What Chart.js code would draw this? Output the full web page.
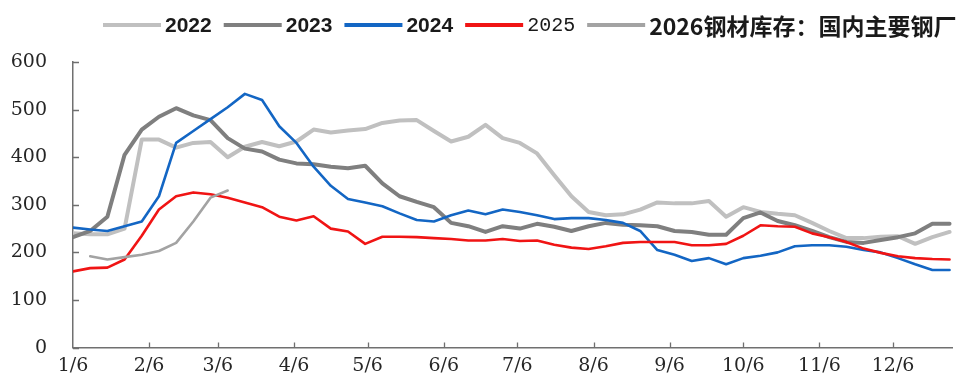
<!DOCTYPE html>
<html>
<head>
<meta charset="utf-8">
<script src="https://cdn.jsdelivr.net/npm/chart.js@4.4.1/dist/chart.umd.min.js"></script>
<style>
html,body{margin:0;padding:0;background:#fff;}
#wrap{position:relative;width:977px;height:385px;}
</style>
</head>
<body>
<div id="wrap"><canvas id="c"></canvas></div>
<script>
// Weekly observation points, as day offsets from 1/6
const categories = [0,7,14,21,28,35,42,49,56,63,70,77,84,91,98,105,112,119,126,133,140,147,154,161,168,175,182,189,196,203,210,217,224,231,238,245,252,259,266,273,280,287,294,301,308,315,322,329,336,343,350,357];
// Month tick positions (day offsets) and their labels
const tickDays = [0,31,59,90,120,151,181,212,243,273,304,334];
const tickLabels = ['1/6','2/6','3/6','4/6','5/6','6/6','7/6','8/6','9/6','10/6','11/6','12/6'];
const yTicks = [0,100,200,300,400,500,600];

const s2022 = [240,238,238,250,437,437,420,430,432,400,422,432,423,433,458,452,456,459,472,477,478,455,433,443,468,440,430,408,362,318,285,278,280,290,305,303,303,308,275,295,285,281,278,262,245,230,230,233,234,218,232,243];
const s2023 = [232,245,275,405,458,485,503,488,478,440,418,412,395,387,385,380,377,382,345,318,306,295,262,255,243,255,250,260,254,245,255,262,258,257,255,245,243,237,237,272,284,266,257,245,232,222,220,226,232,240,260,260];
const s2024 = [252,248,245,255,265,318,430,455,480,505,533,520,465,430,380,340,312,305,297,282,268,265,278,288,280,290,285,278,270,272,272,268,262,245,205,195,182,188,175,188,193,200,213,215,215,212,205,200,188,175,163,163];
const s2025 = [160,167,168,185,235,290,318,326,322,315,305,295,275,267,276,250,244,218,233,233,232,230,228,225,225,228,224,225,216,210,207,213,220,222,222,222,215,215,218,235,257,255,254,240,232,222,208,199,192,188,186,185];
const s2026 = [null,192,185,190,195,203,220,265,315,330];

const seriesNames = ['2022','2023','2024','2025','2026钢材库存：国内主要钢厂'];

function toPoints(vals){
  const pts = [];
  for (let i = 0; i < vals.length; i++) {
    if (vals[i] !== null && vals[i] !== undefined) pts.push({x: categories[i], y: vals[i]});
  }
  return pts;
}

const styles = [
  {color:'#c0c0c0', width:4, font:'bold 21px "Liberation Sans", Arial, sans-serif', order:4},
  {color:'#7f7f7f', width:4, font:'bold 21px "Liberation Sans", Arial, sans-serif', order:3},
  {color:'#1366c4', width:2.6, font:'bold 21px "Liberation Sans", Arial, sans-serif', order:2},
  {color:'#f01414', width:2.6, font:'20px "Liberation Mono", monospace', order:1},
  {color:'#a3a3a3', width:2.6, font:'bold 23px "Noto Sans CJK SC", sans-serif', order:0}
];
const allSeries = [s2022, s2023, s2024, s2025, s2026];

const datasets = allSeries.map((vals, k) => ({
  label: seriesNames[k],
  data: toPoints(vals),
  borderColor: styles[k].color,
  backgroundColor: styles[k].color,
  borderWidth: styles[k].width,
  pointRadius: 0,
  tension: 0,
  fill: false,
  order: styles[k].order,
  borderJoinStyle: 'round',
  borderCapStyle: 'round'
}));

const customDecor = {
  id: 'customDecor',
  afterDraw(chart) {
    const ctx = chart.ctx;
    const xs = chart.scales.x, ys = chart.scales.y;
    const area = chart.chartArea;
    ctx.save();
    // inside tick marks
    ctx.strokeStyle = '#6f6f6f';
    ctx.lineWidth = 1.3;
    ctx.beginPath();
    yTicks.forEach(v => {
      const y = Math.round(ys.getPixelForValue(v)) + 0.5;
      ctx.moveTo(area.left, y);
      ctx.lineTo(area.left + 6, y);
    });
    tickDays.forEach((d, i) => {
      if (i === 0) return;
      const x = Math.round(xs.getPixelForValue(d)) + 0.5;
      ctx.moveTo(x, area.bottom);
      ctx.lineTo(x, area.bottom - 5);
    });
    ctx.stroke();
    // legend
    let x = 103;
    const y = 25;
    ctx.textBaseline = 'middle';
    ctx.textAlign = 'left';
    seriesNames.forEach((name, k) => {
      ctx.strokeStyle = styles[k].color;
      ctx.lineWidth = 4;
      ctx.lineCap = 'butt';
      ctx.beginPath();
      ctx.moveTo(x, y);
      ctx.lineTo(x + 58, y);
      ctx.stroke();
      x += 62;
      ctx.font = styles[k].font;
      ctx.fillStyle = '#1a1a1a';
      ctx.fillText(name, x, y + 1);
      x += ctx.measureText(name).width + 12;
    });
    ctx.restore();
  }
};

new Chart(document.getElementById('c'), {
  type: 'line',
  data: { datasets },
  options: {
    responsive: true,
    maintainAspectRatio: false,
    animation: false,
    events: [],
    layout: { padding: { top: 62, right: 25, left: 0, bottom: 0 } },
    plugins: { legend: { display: false }, tooltip: { enabled: false } },
    scales: {
      x: {
        type: 'linear',
        min: 0,
        max: 358,
        afterBuildTicks(scale) { scale.ticks = tickDays.map(v => ({value: v})); },
        afterFit(scale) { scale.height = 31; },
        ticks: {
          autoSkip: false,
          maxRotation: 0,
          padding: 7,
          color: '#262626',
          font: { family: '"DejaVu Serif", serif', size: 19 },
          callback(value) { const i = tickDays.indexOf(value); return i >= 0 ? tickLabels[i] : ''; }
        },
        grid: { display: false, drawTicks: false },
        border: { display: true, color: '#707070', width: 1.5 }
      },
      y: {
        min: 0,
        max: 600,
        afterBuildTicks(scale) { scale.ticks = yTicks.map(v => ({value: v})); },
        afterFit(scale) { scale.width = 73; },
        ticks: {
          padding: 26,
          color: '#262626',
          font: { family: '"DejaVu Serif", serif', size: 19 }
        },
        grid: { display: false, drawTicks: false },
        border: { display: true, color: '#707070', width: 1.5 }
      }
    }
  },
  plugins: [customDecor]
});
</script>
</body>
</html>
